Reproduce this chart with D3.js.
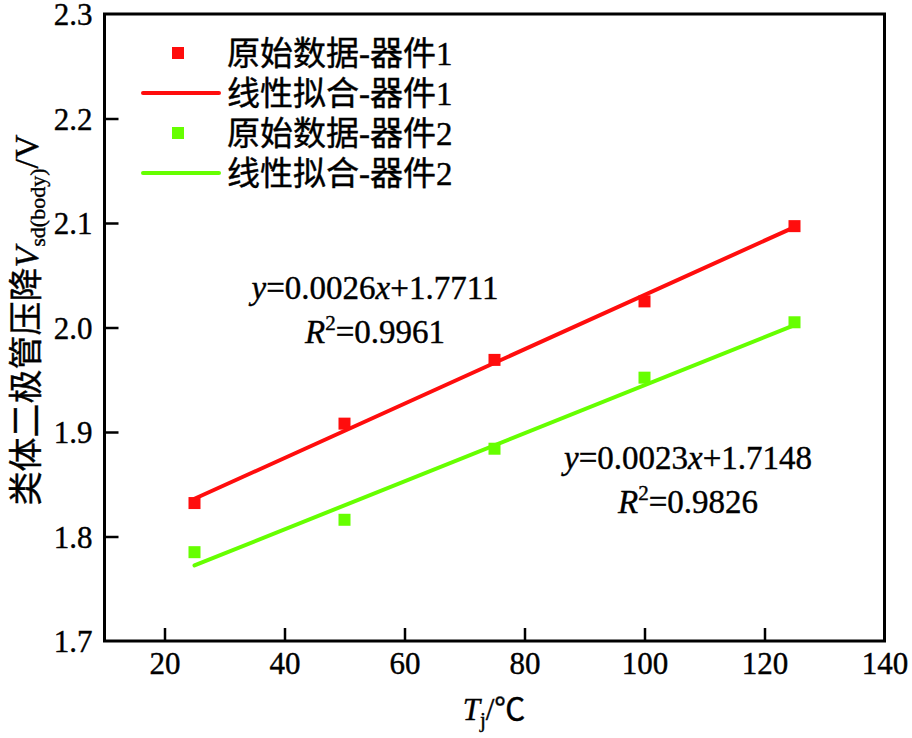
<!DOCTYPE html>
<html><head><meta charset="utf-8">
<script src="https://cdn.jsdelivr.net/npm/d3@7/dist/d3.min.js"></script>
<style>
body{margin:0;background:#fff;}
text{font-family:"Liberation Serif","Times New Roman",Tinos,"Noto Sans CJK SC",serif;fill:#000;stroke:#000;stroke-width:0.4px;}
</style></head>
<body><svg id="c" width="912" height="738"></svg>
<script>
const temps = [25, 50, 75, 100, 125];
const device1 = [1.832, 1.908, 1.969, 2.025, 2.097];
const device2 = [1.785, 1.816, 1.884, 1.952, 2.005];
const fit1 = {slope: 0.0026, intercept: 1.7711, r2: "0.9961"};
const fit2 = {slope: 0.0023, intercept: 1.7148, r2: "0.9826"};
const xTicks = [20, 40, 60, 80, 100, 120, 140];
const yTicks = [1.7, 1.8, 1.9, 2.0, 2.1, 2.2, 2.3];
const legendLabels = ["原始数据-器件1", "线性拟合-器件1", "原始数据-器件2", "线性拟合-器件2"];
const colors = ["#ff0d0d", "#66ff00"];

const svg = d3.select("#c");
const L = 104.5, R = 884.5, T = 14, B = 641;
const x = d3.scaleLinear().domain([10, 140]).range([L, R]);
const y = d3.scaleLinear().domain([1.7, 2.3]).range([B, T]);

svg.append("rect").attr("x", L).attr("y", T).attr("width", R - L).attr("height", B - T)
  .attr("fill", "none").attr("stroke", "#000").attr("stroke-width", 3);

const xa = svg.append("g").attr("transform", `translate(0,${B})`)
  .call(d3.axisBottom(x).tickValues(xTicks).tickSize(-13).tickPadding(11).tickFormat(d3.format("d")));
const ya = svg.append("g").attr("transform", `translate(${L},0)`)
  .call(d3.axisLeft(y).tickValues(yTicks).tickSize(-14).tickPadding(12).tickFormat(d3.format(".1f")));
[xa, ya].forEach(g => {
  g.attr("font-family", null);
  g.select(".domain").remove();
  g.selectAll(".tick line").attr("stroke", "#000").attr("stroke-width", 2.5);
  g.selectAll(".tick text").attr("font-size", 31).attr("fill", "#000");
});
xa.selectAll(".tick text").attr("dy", "0.71em");
ya.selectAll(".tick text").attr("dy", "0.35em");
xa.selectAll(".tick").filter(d => d === 140).select("line").remove();
ya.selectAll(".tick").filter(d => d === 1.7 || d === 2.3).select("line").remove();

[fit1, fit2].forEach((f, i) => {
  const x0 = temps[0], x1 = temps[temps.length - 1];
  svg.append("line")
    .attr("x1", x(x0)).attr("y1", y(f.slope * x0 + f.intercept))
    .attr("x2", x(x1)).attr("y2", y(f.slope * x1 + f.intercept))
    .attr("stroke", colors[i]).attr("stroke-width", 4).attr("stroke-linecap", "round");
});

[device1, device2].forEach((vals, i) => {
  svg.append("g").selectAll("rect").data(vals).join("rect")
    .attr("x", (d, j) => x(temps[j]) - 6).attr("y", d => y(d) - 6)
    .attr("width", 12).attr("height", 12).attr("fill", colors[i]);
});

const legY = [53, 93, 133, 173];
legendLabels.forEach((lab, i) => {
  const c = colors[Math.floor(i / 2)];
  if (i % 2 === 0) {
    svg.append("rect").attr("x", 178 - 6).attr("y", legY[i] - 6).attr("width", 12).attr("height", 12).attr("fill", c);
  } else {
    svg.append("line").attr("x1", 143).attr("x2", 219).attr("y1", legY[i]).attr("y2", legY[i])
      .attr("stroke", c).attr("stroke-width", 4).attr("stroke-linecap", "round");
  }
  svg.append("text").attr("x", 227).attr("y", legY[i] + 12).attr("font-size", 33).text(lab);
});

function eq(cx, by, f) {
  const t = svg.append("text").attr("x", cx).attr("y", by).attr("text-anchor", "middle").attr("font-size", 33);
  t.append("tspan").attr("font-style", "italic").text("y");
  t.append("tspan").text("=" + f.slope.toFixed(4));
  t.append("tspan").attr("font-style", "italic").text("x");
  t.append("tspan").text("+" + f.intercept.toFixed(4));
  const t2 = svg.append("text").attr("x", cx).attr("y", by + 44).attr("text-anchor", "middle").attr("font-size", 33);
  t2.append("tspan").attr("font-style", "italic").text("R");
  t2.append("tspan").attr("font-size", 21).attr("dy", -13).text("2");
  t2.append("tspan").attr("dy", 13).text("=" + f.r2);
}
eq(375, 299, fit1);
eq(688, 469, fit2);

const xl = svg.append("text").attr("x", 494).attr("y", 720).attr("text-anchor", "middle").attr("font-size", 31);
xl.append("tspan").attr("font-style", "italic").text("T");
xl.append("tspan").attr("font-size", 21).attr("dy", 7).text("j");
xl.append("tspan").attr("dy", -7).text("/℃");

const yl = svg.append("text").attr("transform", "translate(38,320) rotate(-90)")
  .attr("text-anchor", "middle").attr("font-size", 34);
yl.append("tspan").text("类体二极管压降");
yl.append("tspan").attr("font-style", "italic").text("V");
yl.append("tspan").attr("font-size", 22).attr("dy", 7).text("sd(body)");
yl.append("tspan").attr("dy", -7).text("/V");
</script></body></html>
